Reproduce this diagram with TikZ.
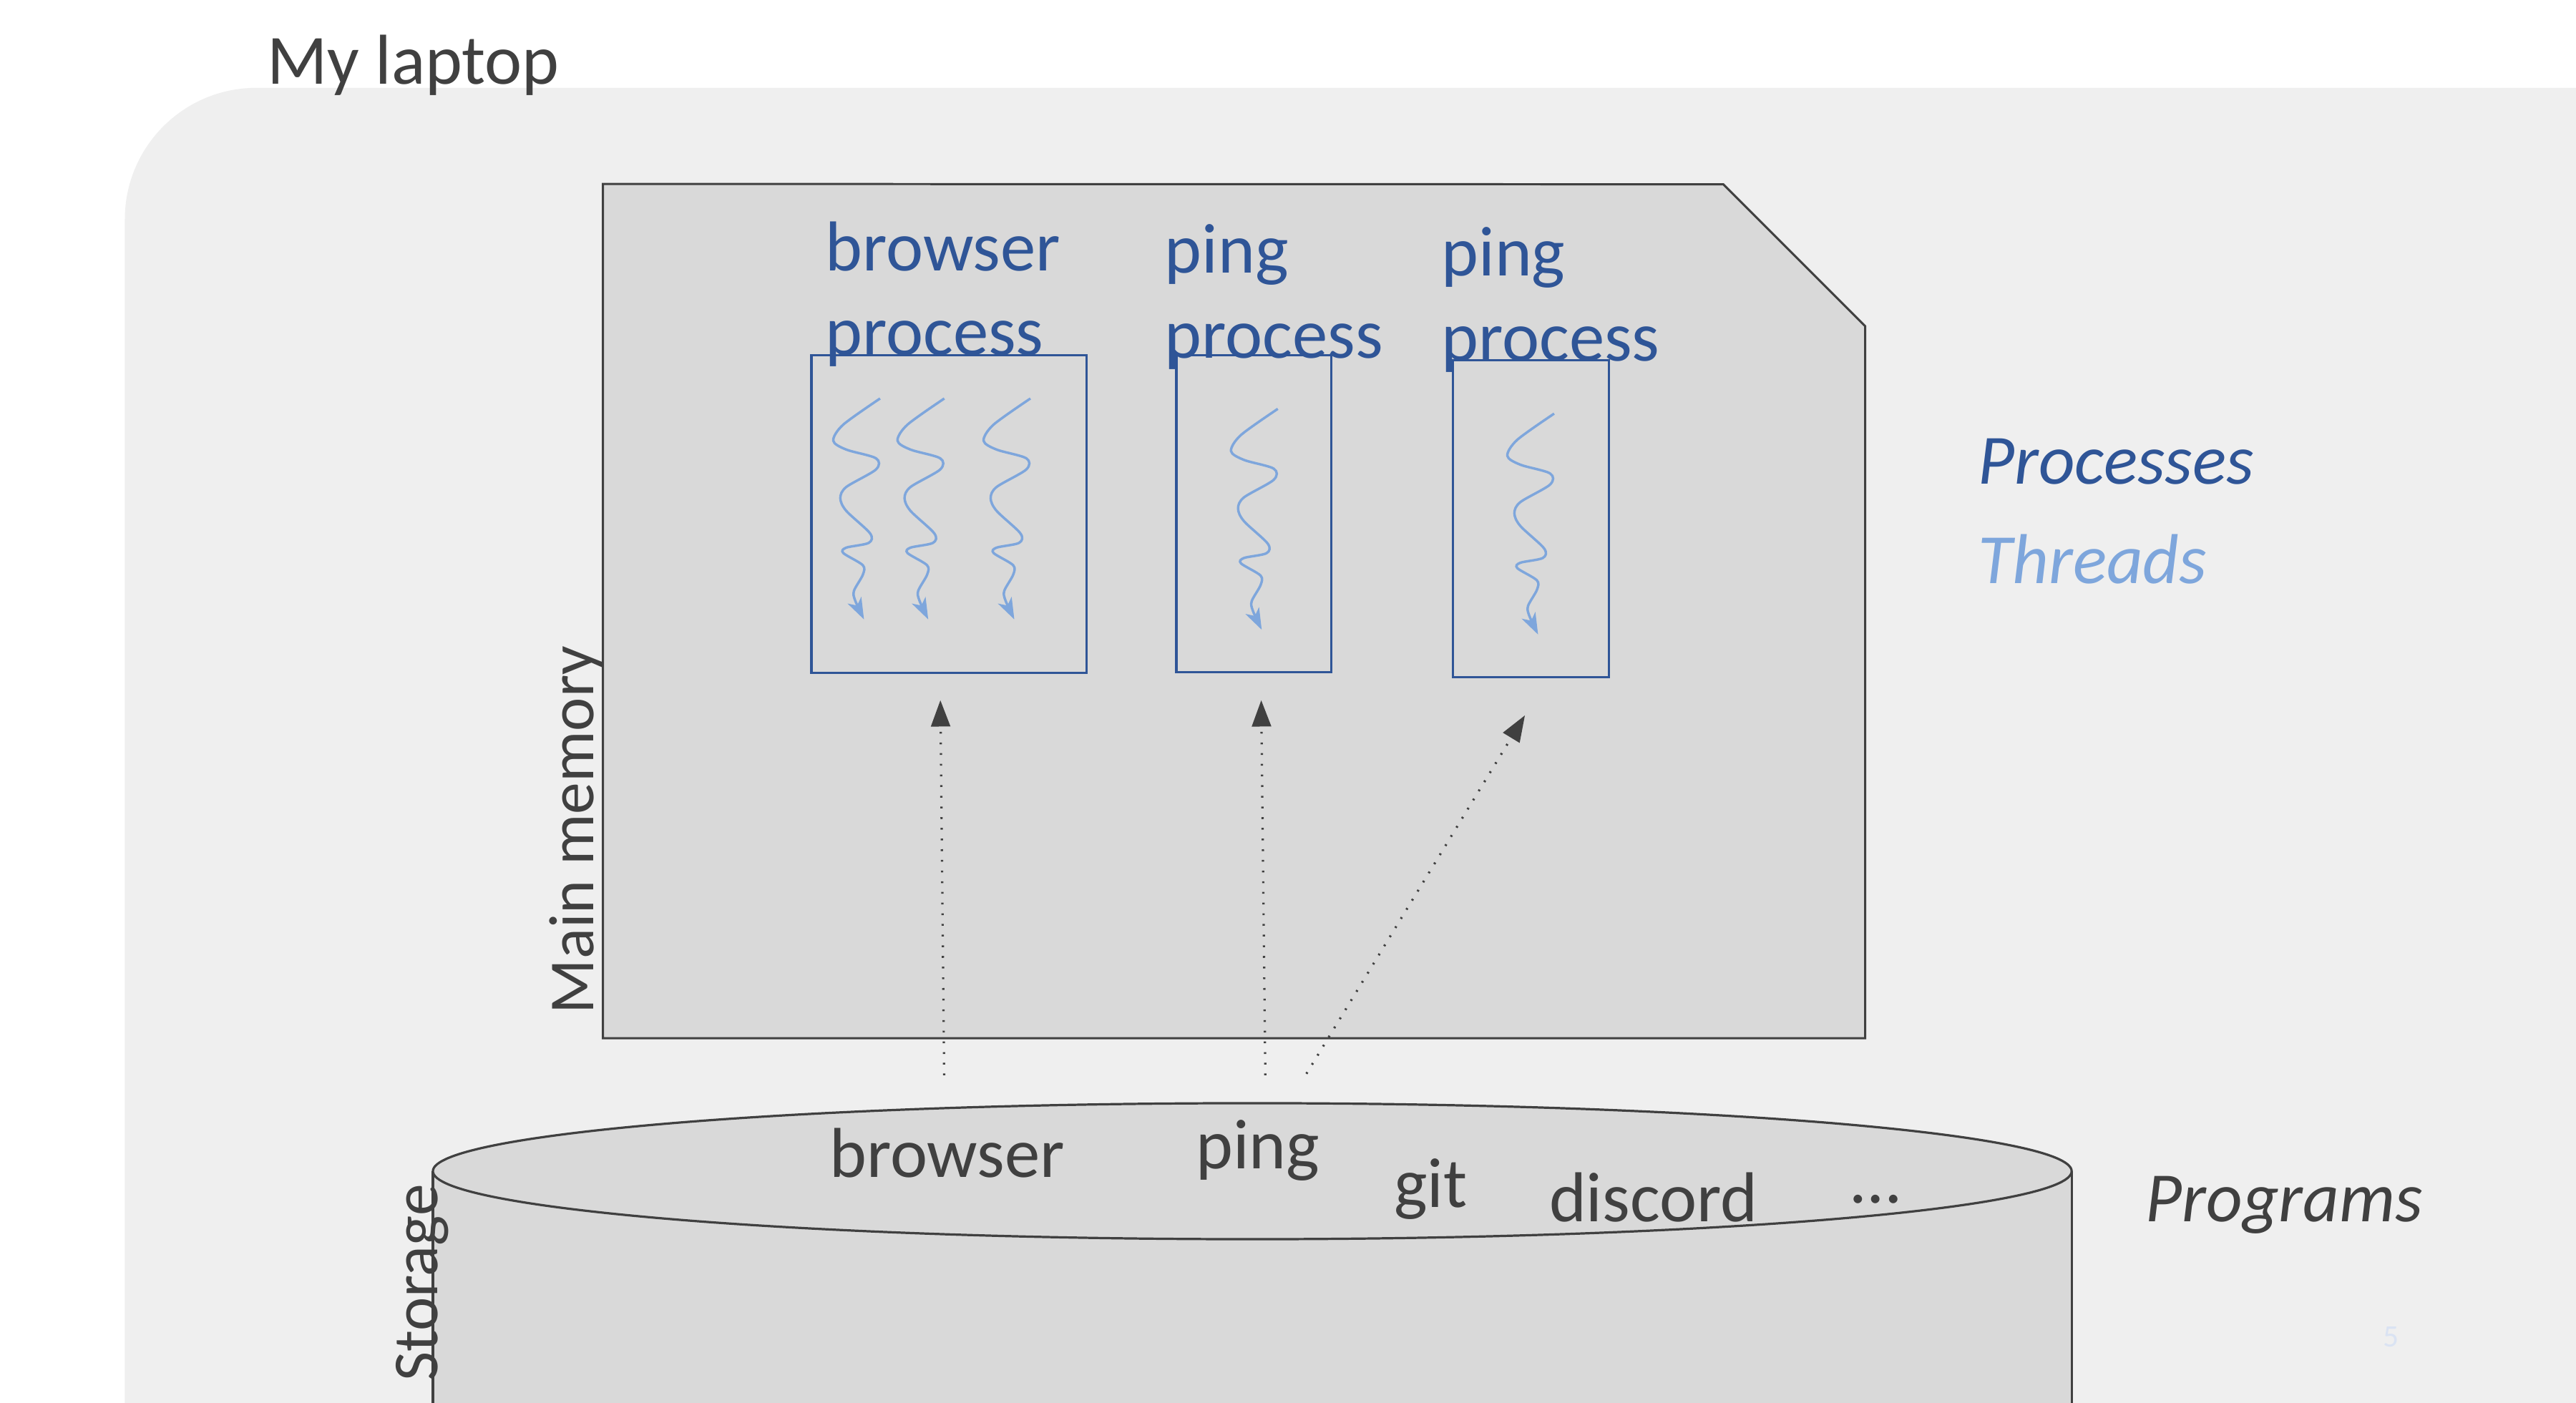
\documentclass[tikz,border=0pt]{standalone}
\usepackage{fontspec}
\setmainfont{Carlito}
\usetikzlibrary{arrows.meta}
\definecolor{dgray}{HTML}{404040}
\definecolor{pblue}{HTML}{2F5597}
\definecolor{tblue}{HTML}{7EA6DC}
\definecolor{bggray}{HTML}{EFEFEF}
\definecolor{boxgray}{HTML}{D9D9D9}
\definecolor{pagenum}{HTML}{DAE3F3}
\newcommand\mythread[1]{%
  \draw[thread, shift={(#1)}] plot[smooth, tension=0.5] coordinates {
    (0,0) (-22.4,15.9) (-28.5,25.7) (-20.6,31.1) (-2.5,36.4) (-2.5,43.2)
    (-20.6,53.9) (-24.2,60.7) (-20.6,68.4) (-6.1,82.1) (-6.9,87.9)
    (-20.6,90.8) (-22.4,94.1) (-10.5,101.5) (-10.5,107.3) (-15.9,117.1)
    (-15.2,122.9) (-9.8,134.5)};}
\begin{document}
\begin{tikzpicture}[x=0.5pt,y=-0.5pt,
  lbl/.style={inner sep=0pt, outer sep=0pt, anchor=base west, text=dgray,
    font=\fontsize{21.5}{25.8}\selectfont},
  plbl/.style={lbl, text=pblue},
  vlbl/.style={inner sep=0pt, outer sep=0pt, anchor=base west, text=dgray,
    rotate=90, font=\fontsize{19.5}{23.4}\selectfont},
  membox/.style={fill=boxgray, draw=dgray, line width=0.65pt},
  procbox/.style={draw=pblue, line width=0.7pt},
  thread/.style={draw=tblue, line width=0.75pt,
    -{Stealth[length=6.5pt,width=4.6pt,inset=1.8pt]}},
  dotarrow/.style={draw=dgray, line width=0.7pt,
    dash pattern=on 0.55pt off 2.7pt,
    -{Triangle[length=8pt,width=5.8pt]}},
  cyl/.style={fill=boxgray, draw=dgray, line width=0.7pt}
]
% canvas
\useasboundingbox (0,0) rectangle (1568,854);
\fill[white] (0,0) rectangle (1568,854);
\fill[bggray, rounded corners=40pt] (76,53.5) rectangle (1700,1000);

\node[lbl] (laptop) at (162.5,51) {My laptop};

% main memory
\path[membox] (367,112) -- (1048.9,112.2) -- (1135.3,198.6)
  -- (1135.3,632) -- (367,632) -- cycle;
\node[vlbl] (mainmem) at (361.5,617.2) {Main memory};

% process boxes
\draw[procbox] (493.9,216.2) rectangle (661.5,409.8);
\draw[procbox] (716,216.2) rectangle (810.3,409.3);
\draw[procbox] (884.3,219.3) rectangle (979.3,412.2);

\node[plbl] (p1) at (502.5,164.7)
  {\begin{tabular}[t]{@{}l@{}}browser\\process\end{tabular}};
\node[plbl] (p2) at (709,166.2)
  {\begin{tabular}[t]{@{}l@{}}ping\\process\end{tabular}};
\node[plbl] (p3) at (877.5,168.1)
  {\begin{tabular}[t]{@{}l@{}}ping\\process\end{tabular}};

% threads
\coordinate (th1) at (535.7,242.6);
\coordinate (th2) at (574.8,242.6);
\coordinate (th3) at (627.2,242.6);
\coordinate (th4) at (777.8,248.9);
\coordinate (th5) at (946,251.8);
\mythread{th1}
\mythread{th2}
\mythread{th3}
\mythread{th4}
\mythread{th5}

% legend
\node[lbl, text=pblue, font=\fontsize{21.5}{25.8}\selectfont\itshape] (procs)
  at (1204,294.7) {Processes};
\node[lbl, text=tblue, font=\fontsize{21.5}{25.8}\selectfont\itshape] (thrs)
  at (1204,355.4) {Threads};

% storage cylinder
\path[fill=boxgray] (263.5,713) rectangle (1261,900);
\draw[dgray, line width=0.7pt] (263.5,713) -- (263.5,900);
\draw[dgray, line width=0.7pt] (1261,713) -- (1261,900);
\path[cyl] (762.25,713) ellipse [x radius=498.75, y radius=41.4];
\node[vlbl] (storage) at (266.4,841) {Storage};

\node[lbl] (pbrowser) at (505,716.5) {browser};
\node[lbl] (pping) at (728,711.4) {ping};
\node[lbl] (pgit) at (848.5,734.9) {git};
\node[lbl] (pdiscord) at (943,743.6) {discord};
\node[lbl] (pdots) at (1127,732.4) {…};
\node[lbl, font=\fontsize{21.5}{25.8}\selectfont\itshape] (programs)
  at (1306,743.6) {Programs};

% loading arrows
\coordinate (s1) at (574.7,654.6);
\coordinate (t1) at (572.4,426.3);
\coordinate (s2) at (770.2,654.6);
\coordinate (t2) at (767.7,426.3);
\coordinate (s3) at (795.2,653.7);
\coordinate (t3) at (928.2,435.5);
\draw[dotarrow] (s1) -- (t1);
\draw[dotarrow] (s2) -- (t2);
\draw[dotarrow] (s3) -- (t3);

% page number
\node[inner sep=0pt, anchor=base west, text=pagenum,
  font=\fontsize{9.5}{11}\selectfont] (pnum) at (1450,820) {5};
\end{tikzpicture}
\end{document}
